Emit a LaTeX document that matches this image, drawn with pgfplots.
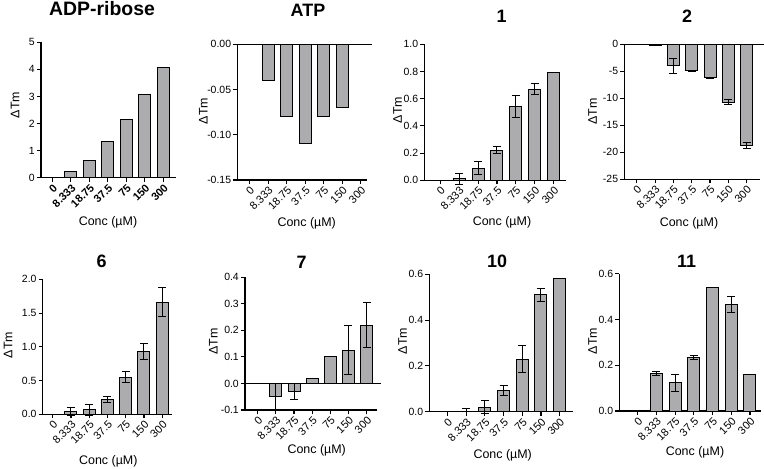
\documentclass[border=0pt]{standalone}
\usepackage{fontspec}
\setmainfont{Liberation Sans}
\usepackage{pgfplots}
\pgfplotsset{compat=1.18}
\definecolor{barg}{RGB}{172,172,175}
\pgfplotsset{
 panel/.style={
  scale only axis, anchor=south west, clip=false,
  axis lines*=left,
  axis line style={line width=1.2bp},
  tick style={line width=1.1bp, black},
  tick align=outside, major tick length=4bp,
  xtick={0,...,6},
  xticklabels={0,8.333,18.75,37.5,75,150,300},
  x tick label style={rotate=45, anchor=north east, font=\fontsize{11}{11}\selectfont, inner sep=1bp},
  y tick label style={font=\fontsize{10.5}{10.5}\selectfont, inner sep=2bp},
  ybar, bar width=12bp, bar shift=0pt,
 },
 bs/.style={fill=barg, draw=black, line width=1bp},
 eb/.style={bs, error bars/.cd, y dir=both, y explicit,
   error bar style={line width=1bp, black},
   error mark options={line width=1bp, black, mark size=4bp, rotate=90}},
}
\begin{document}
\begin{tikzpicture}
\useasboundingbox (0,0) rectangle (764bp,469bp);
% ---------- Row 1 ----------
\begin{axis}[panel, at={(41bp,291.3bp)}, width=134.7bp, height=135.4bp,
  xmin=-0.62, xmax=6.67, ymin=0, ymax=5, ytick={0,1,2,3,4,5}, yticklabels={0,1,2,3,4,5},
  x tick label style={font=\fontsize{11}{11}\selectfont\bfseries}]
\addplot[bs] coordinates {(1,0.24) (2,0.63) (3,1.32) (4,2.14) (5,3.07) (6,4.07)};
\end{axis}
\begin{axis}[panel, at={(237.3bp,289bp)}, width=129.7bp, height=135.7bp,
  xmin=-0.66, xmax=6.33, ymin=-0.15, ymax=0, ytick={-0.15,-0.10,-0.05,0}, yticklabels={-0.15,-0.10,-0.05,0.00}]
\addplot[bs] coordinates {(1,-0.04) (2,-0.08) (3,-0.11) (4,-0.08) (5,-0.07)};
\draw[line width=1.2bp] (axis cs:-0.66,0) -- (axis cs:6.6,0);
\end{axis}
\begin{axis}[panel, at={(424.3bp,288.7bp)}, width=141.4bp, height=136bp,
  xmin=-0.84, xmax=6.63, ymin=0, ymax=1, ytick={0,0.2,0.4,0.6,0.8,1}, yticklabels={0.0,0.2,0.4,0.6,0.8,1.0}]
\addplot[eb] coordinates {(1,0.01) +- (0,0.04) (2,0.09) +- (0,0.045) (3,0.22) +- (0,0.025) (4,0.54) +- (0,0.08) (5,0.67) +- (0,0.04) (6,0.79) +- (0,0)};
\end{axis}
\begin{axis}[panel, at={(624.3bp,289.7bp)}, width=135.7bp, height=135bp,
  xmin=-0.68, xmax=6.73, ymin=-25, ymax=0, ytick={-25,-20,-15,-10,-5,0}, yticklabels={-25,-20,-15,-10,-5,0}]
\addplot[eb] coordinates {(1,-0.2) +- (0,0.1) (2,-4.0) +- (0,1.4) (3,-4.9) +- (0,0.1) (4,-6.2) +- (0,0.1) (5,-10.7) +- (0,0.45) (6,-18.8) +- (0,0.55)};
\draw[line width=1.2bp] (axis cs:-0.68,0) -- (axis cs:6.95,0);
\end{axis}
% ---------- Row 2 ----------
\begin{axis}[panel, at={(42.7bp,54.7bp)}, width=129bp, height=135bp,
  xmin=-0.55, xmax=6.52, ymin=0, ymax=2, ytick={0,0.5,1,1.5,2}, yticklabels={0.0,0.5,1.0,1.5,2.0}]
\addplot[eb] coordinates {(1,0.04) +- (0,0.06) (2,0.065) +- (0,0.08) (3,0.22) +- (0,0.04) (4,0.55) +- (0,0.08) (5,0.93) +- (0,0.115) (6,1.66) +- (0,0.215)};
\end{axis}
\begin{axis}[panel, at={(245bp,59bp)}, width=132bp, height=132.7bp,
  xmin=-0.70, xmax=6.57, ymin=-0.1, ymax=0.4, ytick={-0.1,0,0.1,0.2,0.3,0.4}, yticklabels={-0.1,0.0,0.1,0.2,0.3,0.4}]
\addplot[eb] coordinates {(1,-0.05) +- (0,0.05) (2,-0.03) +- (0,0.03) (3,0.02) +- (0,0) (4,0.1) +- (0,0) (5,0.125) +- (0,0.092) (6,0.22) +- (0,0.085)};
\draw[line width=1.2bp] (axis cs:-0.70,0) -- (axis cs:6.8,0);
\end{axis}
\begin{axis}[panel, at={(429.3bp,57.3bp)}, width=143.4bp, height=137.4bp,
  xmin=-0.98, xmax=6.7, ymin=0, ymax=0.6, ytick={0,0.2,0.4,0.6}, yticklabels={0.0,0.2,0.4,0.6}]
\addplot[eb] coordinates {(1,0) += (0,0.013) -= (0,0) (2,0.02) +- (0,0.03) (3,0.093) +- (0,0.022) (4,0.23) +- (0,0.057) (5,0.51) +- (0,0.03) (6,0.58) +- (0,0)};
\end{axis}
\begin{axis}[panel, at={(619.3bp,58bp)}, width=141.7bp, height=137.3bp,
  xmin=-0.98, xmax=6.59, ymin=0, ymax=0.6, ytick={0,0.2,0.4,0.6}, yticklabels={0.0,0.2,0.4,0.6}]
\addplot[eb] coordinates {(1,0.165) +- (0,0.008) (2,0.124) +- (0,0.037) (3,0.234) +- (0,0.008) (4,0.54) +- (0,0) (5,0.465) +- (0,0.034) (6,0.16) +- (0,0)};
\end{axis}
% ---------- Titles ----------
\begin{scope}[every node/.style={anchor=base, font=\fontsize{18}{18}\selectfont\bfseries, inner sep=0pt}]
\node[font=\fontsize{19.5}{19.5}\selectfont\bfseries] at (102bp,453bp) {ADP-ribose};
\node at (308bp,452.3bp) {ATP};
\node at (501.7bp,446.7bp) {1};
\node at (687bp,446.3bp) {2};
\node at (101.7bp,201.7bp) {6};
\node at (301.7bp,200.7bp) {7};
\node at (497bp,201.7bp) {10};
\node at (686.7bp,201.7bp) {11};
\end{scope}
% ---------- Axis labels ----------
\begin{scope}[every node/.style={anchor=center, font=\fontsize{12.5}{12.5}\selectfont, inner sep=0pt}]
\node[rotate=90] at (15bp,364bp) {ΔTm};
\node[rotate=90] at (203.3bp,358bp) {ΔTm};
\node[rotate=90] at (397.7bp,359bp) {ΔTm};
\node[rotate=90] at (592.7bp,357.3bp) {ΔTm};
\node[rotate=90] at (8bp,124bp) {ΔTm};
\node[rotate=90] at (213.3bp,127.3bp) {ΔTm};
\node[rotate=90] at (402.7bp,128bp) {ΔTm};
\node[rotate=90] at (592.7bp,128bp) {ΔTm};
\node at (108bp,247bp) {Conc (µM)};
\node at (306.7bp,246bp) {Conc (µM)};
\node at (502bp,247bp) {Conc (µM)};
\node at (689bp,246bp) {Conc (µM)};
\node at (108.3bp,8bp) {Conc (µM)};
\node at (316.7bp,19bp) {Conc (µM)};
\node at (502.7bp,14bp) {Conc (µM)};
\node at (695bp,16.3bp) {Conc (µM)};
\end{scope}
\end{tikzpicture}
\end{document}
